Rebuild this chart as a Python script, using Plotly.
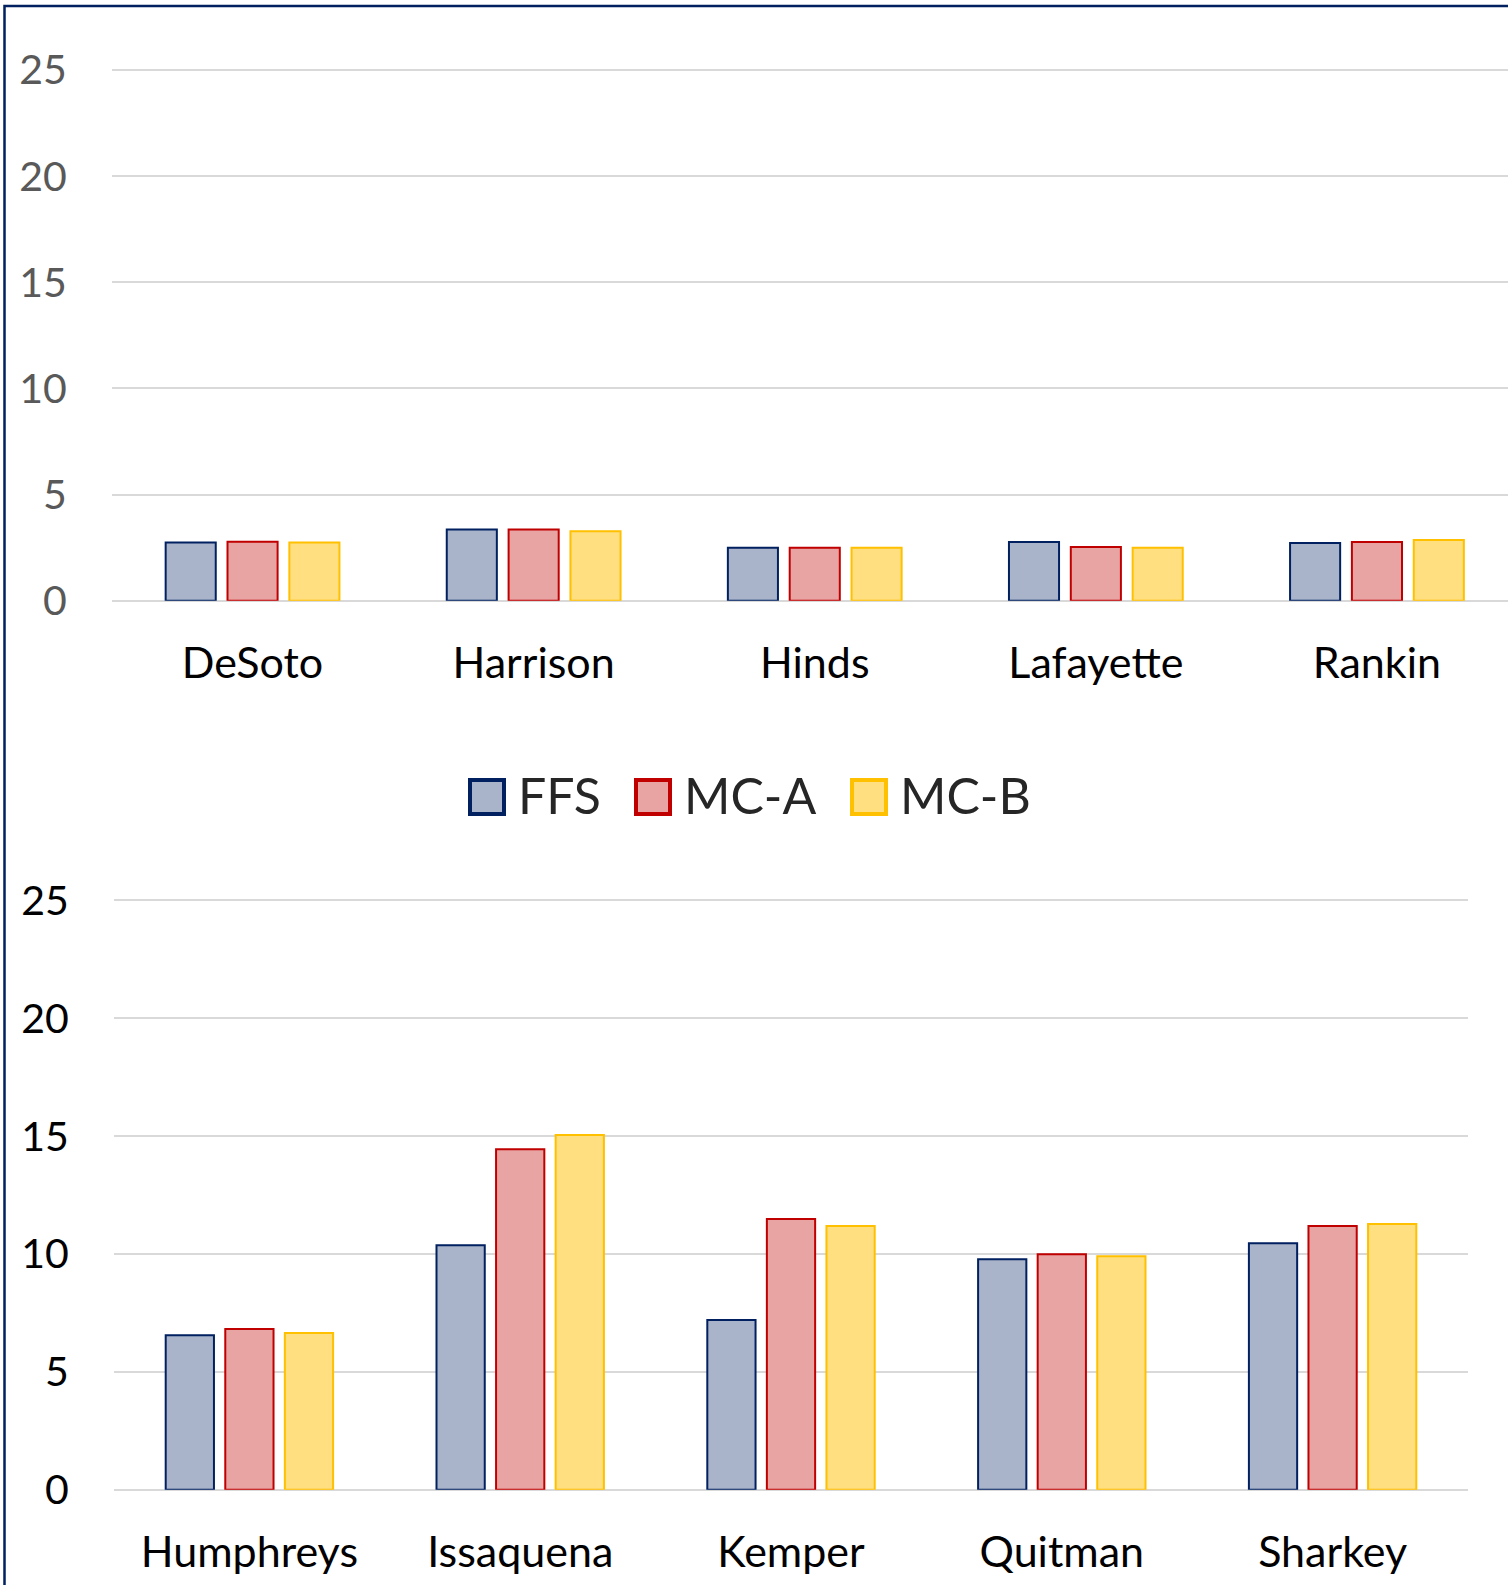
import plotly.graph_objects as go

# ---- data ----
series_names = ["FFS", "MC-A", "MC-B"]
top_counties = ["DeSoto", "Harrison", "Hinds", "Lafayette", "Rankin"]
top_ffs = [2.74, 3.35, 2.49, 2.77, 2.72]
top_mca = [2.78, 3.35, 2.50, 2.53, 2.77]
top_mcb = [2.74, 3.27, 2.50, 2.50, 2.86]

bottom_counties = ["Humphreys", "Issaquena", "Kemper", "Quitman", "Sharkey"]
bot_ffs = [6.56, 10.38, 7.20, 9.78, 10.46]
bot_mca = [6.82, 14.45, 11.49, 9.99, 11.19]
bot_mcb = [6.65, 15.05, 11.19, 9.91, 11.28]

y_ticks = [0, 5, 10, 15, 20, 25]

# ---- styles ----
fills = ["#A9B3CA", "#E8A3A3", "#FFDF80"]
lines = ["#002060", "#C00000", "#FFC000"]
FONT = "Lato"
W, H = 1508, 1585

fig = go.Figure()
top_vals = [top_ffs, top_mca, top_mcb]
bot_vals = [bot_ffs, bot_mca, bot_mcb]
for i, name in enumerate(series_names):
    fig.add_trace(go.Bar(x=top_counties, y=top_vals[i], name=name,
                         marker=dict(color=fills[i], line=dict(color=lines[i], width=2)),
                         xaxis="x", yaxis="y", showlegend=False))
for i, name in enumerate(series_names):
    fig.add_trace(go.Bar(x=bottom_counties, y=bot_vals[i], name=name,
                         marker=dict(color=fills[i], line=dict(color=lines[i], width=2)),
                         xaxis="x2", yaxis="y2", showlegend=False))

def ypaper(px):
    return 1 - px / H

grid = "#D9D9D9"
YMAX = 25.2
common_y = dict(range=[0, YMAX], tickvals=y_ticks, showgrid=True, gridcolor=grid, gridwidth=2,
                zeroline=True, zerolinecolor=grid, zerolinewidth=2, showline=False,
                ticks="outside", ticklen=36, tickcolor="rgba(0,0,0,0)", fixedrange=True,
                automargin=False)
common_x = dict(showgrid=False, showline=False, zeroline=False, ticks="outside",
                ticklen=25, tickcolor="rgba(0,0,0,0)", automargin=False, fixedrange=True,
                tickfont=dict(family=FONT, size=43, color="#000000"))

def ydom(px_zero, px_25):
    # map so that 25 sits at px_25 and 0 at px_zero
    top = px_zero - (px_zero - px_25) * YMAX / 25
    return [ypaper(px_zero), ypaper(top)]

# top chart: its category band runs slightly past the right edge of the figure
top_left, top_cat_w = 112, 281.1
top_x_end = -0.5 + (W - top_left) / top_cat_w

fig.update_layout(
    width=W, height=H, autosize=False,
    margin=dict(l=0, r=0, t=0, b=0, pad=0, autoexpand=False),
    paper_bgcolor="white", plot_bgcolor="white",
    showlegend=False,
    barmode="group", bargap=0.34, bargroupgap=0.19,
    font=dict(family=FONT),
    xaxis=dict(domain=[top_left / W, 1.0], anchor="y", range=[-0.5, top_x_end], **common_x),
    yaxis=dict(domain=ydom(600.7, 70), anchor="x",
               tickfont=dict(family=FONT, size=41, color="#595959"), **common_y),
    xaxis2=dict(domain=[114 / W, 1468 / W], anchor="y2", **common_x),
    yaxis2=dict(domain=ydom(1489.8, 900.5), anchor="x2",
                tickfont=dict(family=FONT, size=41, color="#000000"), **common_y),
)

# custom legend (large swatches like the reference)
sw_left = [470, 636, 852]
sw = 34
ly = 797
for i, name in enumerate(series_names):
    x0 = sw_left[i]
    fig.add_shape(type="rect", xref="paper", yref="paper",
                  x0=x0 / W, x1=(x0 + sw) / W, y0=ypaper(ly + sw / 2), y1=ypaper(ly - sw / 2),
                  fillcolor=fills[i], line=dict(color=lines[i], width=4))
    fig.add_annotation(xref="paper", yref="paper", x=(x0 + sw + 12) / W, y=ypaper(ly - 2),
                       text=name, showarrow=False, xanchor="left", yanchor="middle",
                       font=dict(family=FONT, size=50, color="#262626"))

# chart border (navy, top and left visible)
fig.add_shape(type="rect", xref="paper", yref="paper",
              x0=4.5 / W, x1=1.02, y0=-0.02, y1=ypaper(6),
              line=dict(color="#002060", width=2.5), fillcolor="rgba(0,0,0,0)", layer="above")

fig.write_html("out.html", config={"displayModeBar": False},
               post_script="document.body.style.margin='0';document.body.style.overflow='hidden';")
